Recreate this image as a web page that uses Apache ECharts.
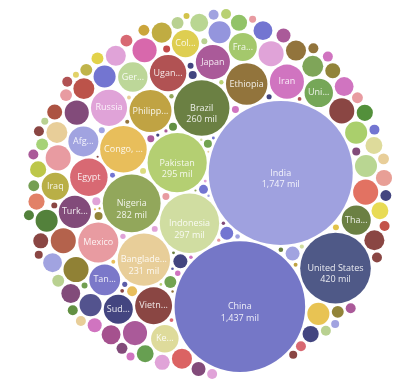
<!DOCTYPE html>
<html>
<head>
<meta charset="utf-8">
<script src="https://cdn.jsdelivr.net/npm/echarts@6/dist/echarts.min.js"></script>
<style>html,body{margin:0;padding:0;background:#fff;}#chart{width:400px;height:384px;}</style>
</head>
<body>
<div id="chart"></div>
<script>
// ---- DATA: projected population 2050 (millions) ----
const countries = [
  "India","China","United States","Indonesia","Pakistan","Nigeria","Brazil","Bangladesh",
  "Congo, Dem. Rep.","Philippines","Ethiopia","Mexico","Egypt","Vietnam","Uganda","Russia",
  "Japan","Iran","Turkey","Tanzania","Afghanistan","Germany","Sudan","Thailand",
  "United Kingdom","France","Kenya","Colombia","Iraq",
  "Myanmar","Yemen","Niger","Spain","Argentina","Nepal","South Africa","Madagascar","Mozambique",
  "Algeria","Ghana","Canada","Saudi Arabia","Malaysia","Venezuela","Korea, South",
  "Morocco","Peru","Angola","Cameroon","Uzbekistan","Mali","Burkina Faso","Cote d'Ivoire",
  "Syria","Poland","Ukraine","Malawi","Chad","Australia","Guatemala","Zambia","Senegal",
  "Korea, North","Somalia","Guinea","Rwanda","Sri Lanka","Taiwan","Ecuador","Chile","Romania","Kazakhstan",
  "Netherlands","Zimbabwe","Burundi","Cambodia","Haiti","Benin",
  "Bolivia","Dominican Republic","Tunisia","Sierra Leone","Togo","Honduras","Israel","Jordan","Papua New Guinea",
  "Cuba","Greece","Portugal","Belgium","Czech Republic","Sweden",
  "Hungary","Belarus","Azerbaijan","Austria","Switzerland","Laos","Paraguay","Tajikistan","Libya",
  "El Salvador","Nicaragua","Kyrgyzstan","Serbia","Eritrea","Liberia","Central African Republic","Turkmenistan","Congo, Rep.",
  "Bulgaria","Denmark","Finland","Norway","Singapore","Georgia","Costa Rica","Slovakia","Ireland","New Zealand","Lebanon",
  "Oman","Puerto Rico","Mauritania","Kuwait","Panama","Croatia",
  "Uruguay","Armenia","Albania","Jamaica","Mongolia","Lesotho","Namibia","Botswana","Gambia","Moldova",
  "United Arab Emirates","Lithuania","Bosnia and Herzegovina","Guinea-Bissau","Gabon","Macedonia","Slovenia","Latvia",
  "Timor-Leste","Qatar","Swaziland","Trinidad and Tobago","Mauritius","Estonia","Djibouti","Cyprus","Bahrain",
  "Fiji","Comoros","Bhutan","Equatorial Guinea","Guyana","Solomon Islands","Montenegro","Luxembourg","Suriname",
  "Cape Verde","Malta","Brunei","Belize","Maldives","Iceland","Bahamas","Barbados","Vanuatu"
];
const population2050 = [
  1747,1437,420,297,295,282,260,231,
  183,149,145,135,118,115,112,110,
  98,98,87,80,76,73,71,71,
  68,66,64,62,62,
  53,53,53,53,53,53,49,49,49,
  41,41,41,41,41,41,41,
  37,37,37,34,34,34,34,34,
  30,30,30,30,30,27,24,24,24,
  22,22,22,22,22,22,19,19,19,19,
  16.5,16.5,16.5,16.5,16.5,14,
  12,12,12,12,12,12,12,12,12,
  10,10,10,10,10,10,
  8.4,8.4,8.4,8.4,8.4,8.4,8.4,8.4,8.4,
  8.4,8.4,8.4,8.4,8.4,8.4,8.4,8.4,8.4,
  6.8,5.4,5.4,5.4,5.4,5.4,5.4,5.4,5.4,5.4,5.4,
  4.1,4.1,4.1,4.1,4.1,4.1,
  3,3,3,3,3,3,3,3,3,3,
  2.5,2.4,2.2,2.2,2.1,1.8,1.8,1.6,
  1.6,1.5,1.4,1.3,1.3,1.2,1.2,1.2,1.2,
  0.9,1.0,0.9,1.1,0.7,0.9,0.6,0.7,0.5,
  0.7,0.4,0.6,0.5,0.5,0.4,0.4,0.3,0.4
];

// ---- STYLE ----
const bubbleColors = [
  "#9a9cdd","#6e70c4","#465081","#cedb9c","#b0cc6a","#8ca252","#637939","#e7cb94",
  "#e7ba52","#bd9e39","#8c6d31","#e7969c","#d6616b","#843c39","#ad494a","#de9ed6",
  "#a55194","#ce6dbd","#7b4173","#7471c6","#9c9ede","#b9d594","#393b79","#637939",
  "#6fa24f","#9fc564","#dcd996","#dccb48","#b5ab3c",
  "#8a7a2a","#de9ed6","#b05a42","#e7969c","#e06a5a","#843c39","#7b4173","#a55194","#d660a8",
  "#6b6ecf","#b5d48c","#a5cc64","#e7c04a","#8e8fdb","#4a4a88","#4a7a30",
  "#b84a40","#78a050","#e7cb94","#d95b5b","#de9ed6","#8c6d31","#bda838","#843c39",
  "#7b4173","#9c9ede","#a04888","#6b6ecf","#ce6dbd","#b5d48c","#e7d94c","#dcd996","#5f9a48",
  "#393b79","#e07a5f","#b9c43f","#8cc060","#e79a90","#4a8a30","#8c7d2e","#de9ed6","#843c39","#a84a38",
  "#393b79","#9c9ede","#ce6dbd","#a55194","#7b4173","#6b6ecf",
  "#6a9e48","#b5cf8b","#8c7d2e","#b5cf8b","#e7969c","#d6616b","#a0d070","#bdb040","#e0d040",
  "#6e9a4a","#393b79","#c8a030","#e7969c","#7b4173","#e7cb94",
  "#e7ba52","#6b6ecf","#d6616b","#c04a40","#8c6d31","#843c39","#5a8a38","#9c9ede","#b5cf8b",
  "#de9ed6","#a55194","#e7cb94","#b5cf6b","#ad494a","#ce6dbd","#a55194","#4a7a30","#843c39",
  "#6b6ecf","#6a9e48","#5a8a38","#8c7d2e","#de9ed6","#393b79","#7b4173","#ce6dbd","#9c9ede","#843c39","#843c39",
  "#e7969c","#a55194","#ce6dbd","#c04040","#b5cf8b","#e7969c",
  "#de9ed6","#d9d976","#9c9ede","#393b79","#e0c040","#b5cf8b","#6a9a48","#843c39","#e0d060","#d0c040"
];
const palette20 = ["#393b79","#5254a3","#6b6ecf","#9c9ede","#637939","#8ca252","#b5cf6b","#cedb9c",
  "#8c6d31","#bd9e39","#e7ba52","#e7cb94","#843c39","#ad494a","#d6616b","#e7969c","#7b4173","#a55194","#ce6dbd","#de9ed6"];

const RADIUS_SCALE = 72 / Math.sqrt(1747); // px per sqrt(million)
const GAP = 2.5;
const LABEL_MIN = 60, VALUE_LINE_MIN = 200;
const LABEL_FONT = "9px 'Open Sans'";
const LABEL_MARGIN = 5.6;
// layout tuning: where the rest of the bubbles gather, relative to the two largest
const ANCHOR_SIDE = 62, ANCHOR_ALONG = -22;
const CENTER = [208, 194];

// ---- circle packing (greedy, largest first, nearest to an anchor point) ----
function packCircles(radii, pad) {
  const n = radii.length, xs = new Array(n), ys = new Array(n);
  const order = radii.map((r, i) => i).sort((a, b) => radii[b] - radii[a]);
  const placed = [];
  const a0 = order[0]; xs[a0] = 0; ys[a0] = 0; placed.push(a0);
  const a1 = order[1]; xs[a1] = radii[a0] + radii[a1] + pad; ys[a1] = 0; placed.push(a1);
  const w0 = radii[a0] ** 2, w1 = radii[a1] ** 2;
  const cx = xs[a1] * w1 / (w0 + w1);
  let anchor = [cx, 0];
  for (let t = 2; t < n; t++) {
    const c = order[t], r = radii[c];
    if (t === 3) {
      const side = ys[order[2]] > 0 ? -1 : 1;
      anchor = [cx + ANCHOR_ALONG, side * ANCHOR_SIDE];
    }
    const ax = anchor[0], ay = anchor[1];
    let bx = 0, by = 0, bestD = Infinity;
    for (let a = 0; a < placed.length; a++) {
      const pa = placed[a], ra = radii[pa] + r + pad;
      for (let b = a + 1; b < placed.length; b++) {
        const pb = placed[b], rb = radii[pb] + r + pad;
        const dx = xs[pb] - xs[pa], dy = ys[pb] - ys[pa];
        const d2 = dx * dx + dy * dy, d = Math.sqrt(d2);
        if (d === 0 || d > ra + rb || d < Math.abs(ra - rb)) continue;
        const l = (ra * ra - rb * rb + d2) / (2 * d);
        const h2 = ra * ra - l * l; if (h2 < 0) continue;
        const h = Math.sqrt(h2);
        const mx = xs[pa] + dx * l / d, my = ys[pa] + dy * l / d;
        for (const s of [1, -1]) {
          const px = mx - s * h * dy / d, py = my + s * h * dx / d;
          const dd = (px - ax) * (px - ax) + (py - ay) * (py - ay);
          if (dd >= bestD) continue;
          let ok = true;
          for (const q of placed) {
            if (q === pa || q === pb) continue;
            const rq = radii[q] + r + pad - 1e-6, ex = px - xs[q], ey = py - ys[q];
            if (ex * ex + ey * ey < rq * rq) { ok = false; break; }
          }
          if (ok) { bx = px; by = py; bestD = dd; }
        }
      }
    }
    xs[c] = bx; ys[c] = by; placed.push(c);
  }
  return { xs, ys, order };
}

const radii = population2050.map(v => RADIUS_SCALE * Math.sqrt(v));
const lay = packCircles(radii, GAP);
(function orient() {
  const [A, B, C] = lay.order;
  const rot = 107 * Math.PI / 180 - Math.atan2(lay.ys[B] - lay.ys[A], lay.xs[B] - lay.xs[A]);
  const cs = Math.cos(rot), sn = Math.sin(rot);
  for (let i = 0; i < radii.length; i++) {
    const x = lay.xs[i], y = lay.ys[i];
    lay.xs[i] = x * cs - y * sn; lay.ys[i] = x * sn + y * cs;
  }
  const ux = lay.xs[B] - lay.xs[A], uy = lay.ys[B] - lay.ys[A];
  const cross = ux * (lay.ys[C] - lay.ys[A]) - uy * (lay.xs[C] - lay.xs[A]);
  if (cross > 0) {
    const L = Math.hypot(ux, uy), nx = ux / L, ny = uy / L;
    for (let i = 0; i < radii.length; i++) {
      const px = lay.xs[i] - lay.xs[A], py = lay.ys[i] - lay.ys[A];
      const dot = px * nx + py * ny;
      lay.xs[i] = lay.xs[A] + 2 * dot * nx - px; lay.ys[i] = lay.ys[A] + 2 * dot * ny - py;
    }
  }
  let x0 = Infinity, x1 = -Infinity, y0 = Infinity, y1 = -Infinity;
  for (let i = 0; i < radii.length; i++) {
    x0 = Math.min(x0, lay.xs[i] - radii[i]); x1 = Math.max(x1, lay.xs[i] + radii[i]);
    y0 = Math.min(y0, lay.ys[i] - radii[i]); y1 = Math.max(y1, lay.ys[i] + radii[i]);
  }
  const ox = CENTER[0] - (x0 + x1) / 2, oy = CENTER[1] - (y0 + y1) / 2;
  for (let i = 0; i < radii.length; i++) { lay.xs[i] += ox; lay.ys[i] += oy; }
})();

// ---- labels: names shortened with "..." to fit inside their bubble ----
const measureCtx = document.createElement("canvas").getContext("2d");
measureCtx.font = LABEL_FONT;
function fitName(name, maxW) {
  if (measureCtx.measureText(name).width <= maxW) return name;
  for (let k = name.length - 1; k > 0; k--) {
    const s = name.slice(0, k) + "...";
    if (measureCtx.measureText(s).width <= maxW) return s;
  }
  return "";
}
function fmt(v) { return String(Math.round(v)).replace(/\B(?=(\d{3})+(?!\d))/g, ","); }

const seriesData = countries.map((name, i) => {
  const v = population2050[i], r = radii[i];
  const item = {
    name: name,
    value: [lay.xs[i], lay.ys[i], v],
    itemStyle: { color: bubbleColors[i] || palette20[i % 20] }
  };
  if (v >= LABEL_MIN) {
    const two = v >= VALUE_LINE_MIN;
    const shown = fitName(name, 2 * r - LABEL_MARGIN);
    item.label = {
      show: true,
      formatter: two ? shown + "\n" + fmt(v) + " mil" : shown,
      offset: two ? [0, 6] : [0, 0]
    };
  }
  return item;
});

const chart = echarts.init(document.getElementById("chart"), null, { renderer: "canvas" });
chart.setOption({
  animation: false,
  grid: { left: 0, right: 0, top: 0, bottom: 0 },
  xAxis: { type: "value", min: 0, max: 400, show: false },
  yAxis: { type: "value", min: 0, max: 384, inverse: true, show: false },
  series: [{
    type: "scatter",
    symbol: "circle",
    symbolSize: val => 2 * RADIUS_SCALE * Math.sqrt(val[2]),
    itemStyle: { opacity: 0.95 },
    label: {
      show: false,
      position: "inside",
      color: "rgba(255,255,255,0.92)",
      fontFamily: "Open Sans",
      fontSize: 9,
      lineHeight: 11.5
    },
    emphasis: { disabled: true },
    data: seriesData
  }]
});
</script>
</body>
</html>
